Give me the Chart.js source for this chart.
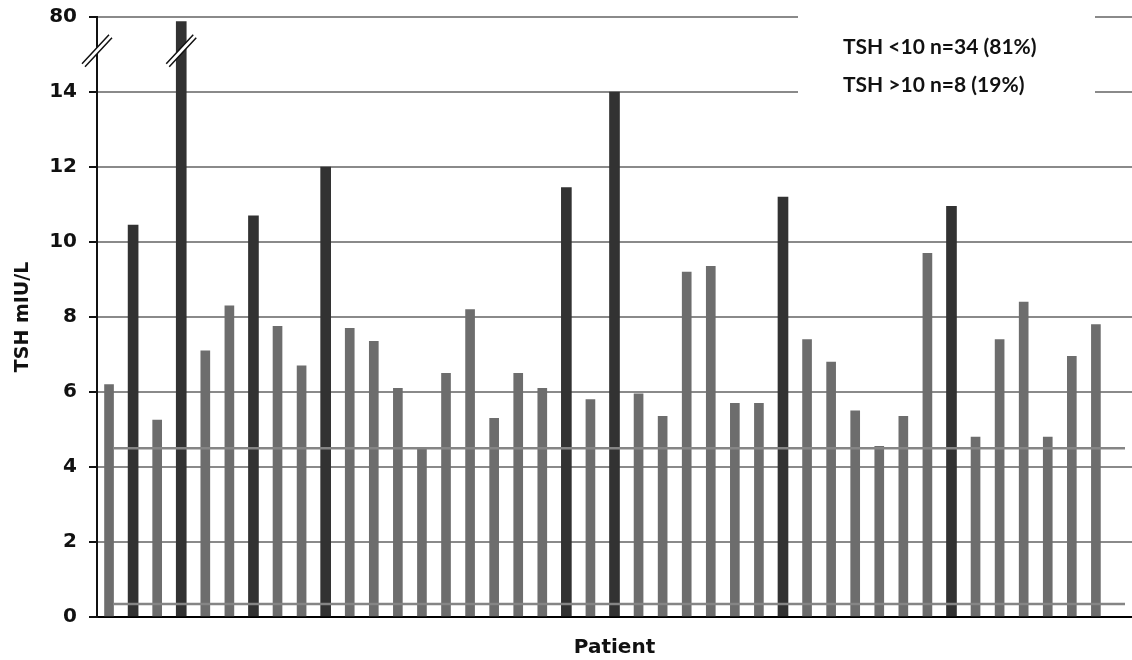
<!DOCTYPE html>
<html>
<head>
<meta charset="utf-8">
<script src="https://cdn.jsdelivr.net/npm/chart.js@4.4.0/dist/chart.umd.min.js"></script>
<style>
  body { margin: 0; background: #fff; }
  #wrap { width: 1132px; height: 660px; }
</style>
</head>
<body>
<div id="wrap"><canvas id="tshChart" width="1132" height="660"></canvas></div>
<script>
// one bar per patient, TSH in mIU/L
const patients = ['1','2','3','4','5','6','7','8','9','10','11','12','13','14','15','16','17','18','19','20','21',
  '22','23','24','25','26','27','28','29','30','31','32','33','34','35','36','37','38','39','40','41','42'];
const tshValues = [6.2, 10.45, 5.25, 76, 7.1, 8.3, 10.7, 7.75, 6.7, 12, 7.7, 7.35, 6.1, 4.5, 6.5, 8.2, 5.3, 6.5, 6.1, 11.45, 5.8,
  14, 5.95, 5.35, 9.2, 9.35, 5.7, 5.7, 11.2, 7.4, 6.8, 5.5, 4.55, 5.35, 9.7, 10.95, 4.8, 7.4, 8.4, 4.8, 6.95, 7.8];
const yTickValues = [0, 2, 4, 6, 8, 10, 12, 14, 80];
const refLines = [0.35, 4.5];   // normal range
const highCutoff = 10;
const notes = ['TSH <10 n=34 (81%)', 'TSH >10 n=8 (19%)'];

// broken axis: 14..80 squeezed into 2 axis units
const breakFrom = 14, breakTo = 80;
function toAxis(v) {
  return v <= breakFrom ? v : breakFrom + (v - breakFrom) / (breakTo - breakFrom) * 2;
}

const lowData = tshValues.map(v => v > highCutoff ? null : toAxis(v));
const highData = tshValues.map(v => v > highCutoff ? toAxis(v) : null);

function drawBreak(ctx, cx, cy) {
  ctx.fillStyle = '#fff';
  ctx.beginPath();
  ctx.moveTo(cx - 15, cy + 13);
  ctx.lineTo(cx + 12, cy - 16);
  ctx.lineTo(cx + 15, cy - 13);
  ctx.lineTo(cx - 12, cy + 16);
  ctx.closePath();
  ctx.fill();
  ctx.strokeStyle = '#111';
  ctx.lineWidth = 1.5;
  ctx.beginPath();
  ctx.moveTo(cx - 15, cy + 13); ctx.lineTo(cx + 12, cy - 16);
  ctx.moveTo(cx - 12, cy + 16); ctx.lineTo(cx + 15, cy - 13);
  ctx.stroke();
}

const extras = {
  id: 'extras',
  beforeDatasetsDraw(chart) {
    const {ctx, chartArea} = chart;
    // white box behind the notes cuts the top grid lines
    ctx.save();
    ctx.fillStyle = '#fff';
    ctx.fillRect(chartArea.right - 334, chartArea.top - 10, 297, 100);
    ctx.restore();
  },
  afterDatasetsDraw(chart) {
    const {ctx, chartArea, scales: {x, y}} = chart;
    ctx.save();
    ctx.strokeStyle = '#858585';
    ctx.lineWidth = 2.5;
    refLines.forEach(v => {
      const py = y.getPixelForValue(v);
      ctx.beginPath();
      ctx.moveTo(chartArea.left + 16, py);
      ctx.lineTo(chartArea.right - 7, py);
      ctx.stroke();
    });

    const by = y.getPixelForValue(15.1);
    drawBreak(ctx, chartArea.left, by);
    tshValues.forEach((v, i) => {
      if (v > breakFrom) drawBreak(ctx, x.getPixelForValue(i), by);
    });

    ctx.fillStyle = '#111';
    ctx.font = 'bold 21px Lato';
    ctx.textBaseline = 'middle';
    ctx.fillText(notes[0], chartArea.right - 289, chartArea.top + 30);
    ctx.fillText(notes[1], chartArea.right - 289, chartArea.top + 68);
    ctx.restore();
  }
};

new Chart(document.getElementById('tshChart'), {
  type: 'bar',
  data: {
    labels: patients.concat(['']),
    datasets: [
      { data: lowData, backgroundColor: '#6d6d6d', barThickness: 9, grouped: false },
      { data: highData, backgroundColor: '#323232', barThickness: 10, grouped: false }
    ]
  },
  options: {
    responsive: false,
    animation: false,
    devicePixelRatio: 1,
    layout: { padding: { top: 17, right: 0, left: 0, bottom: 0 } },
    plugins: { legend: { display: false }, tooltip: { enabled: false } },
    scales: {
      x: {
        grid: { display: false },
        ticks: { display: false },
        border: { color: '#000', width: 2 },
        title: {
          display: true, text: 'Patient', color: '#111',
          font: { family: 'DejaVu Sans', size: 20, weight: 'bold' },
          padding: { top: 0, bottom: 0 }
        },
        afterFit: s => { s.height = 43; }
      },
      y: {
        min: 0,
        max: 16,
        afterBuildTicks: s => { s.ticks = yTickValues.map(v => ({ value: toAxis(v) })); },
        ticks: {
          color: '#111',
          padding: 12,
          font: { family: 'DejaVu Sans', size: 20, weight: 'bold' },
          callback: (val, i) => yTickValues[i]
        },
        grid: { color: '#8a8a8a', lineWidth: 2, tickLength: 8, tickColor: '#111' },
        border: { color: '#111', width: 2 },
        title: {
          display: true, text: 'TSH mIU/L', color: '#111',
          font: { family: 'DejaVu Sans', size: 19, weight: 'bold' },
          padding: { top: 12, bottom: 0 }
        },
        afterFit: s => { s.width = 97; s.paddingTop = 0; s.paddingBottom = 0; }
      }
    }
  },
  plugins: [extras]
});
</script>
</body>
</html>
